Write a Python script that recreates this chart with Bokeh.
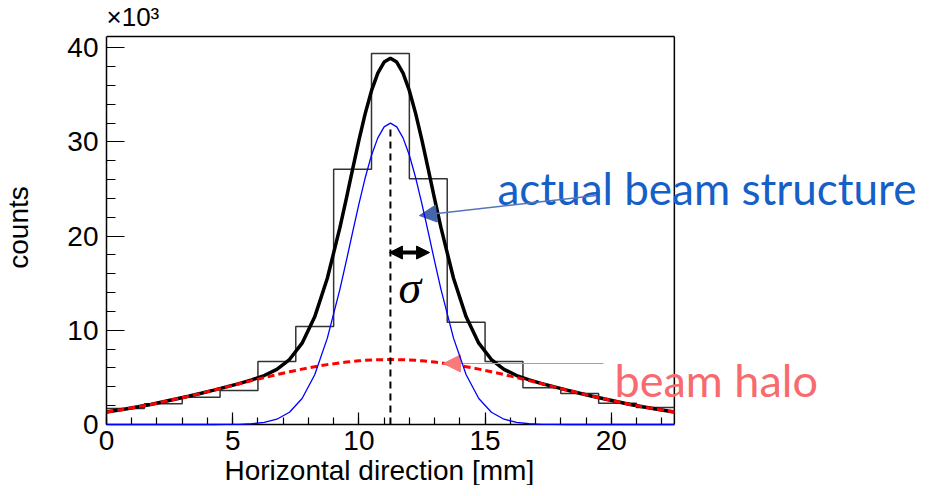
from bokeh.plotting import figure
from bokeh.models import (Range1d, SingleIntervalTicker, Label, Arrow, NormalHead, Title)
from bokeh.embed import file_html
from bokeh.resources import INLINE

# ---- data (counts in units of 10^3) ----
bin_edges = [0.0, 1.5, 3.0, 4.5, 6.0, 7.5, 9.0, 10.5, 12.0, 13.5, 15.0, 16.5, 18.0, 19.5, 21.0, 22.5]
bin_counts = [1.7, 2.2, 2.9, 3.6, 6.7, 10.4, 27.1, 39.4, 26.1, 10.85, 6.7, 3.9, 3.3, 2.25, 1.8]

curve_x = [0.0, 0.25, 0.75, 1.25, 1.75, 2.25, 2.75, 3.25, 3.75, 4.25, 4.75, 5.25, 5.75, 6.25,
           6.75, 7.25, 7.75, 8.25, 8.75,
           9.25, 9.5, 9.75, 10.0, 10.25, 10.5, 10.75, 11.0, 11.25, 11.5, 11.75, 12.0, 12.25,
           12.5, 12.75, 13.0, 13.25,
           13.75, 14.25, 14.75, 15.25, 15.75, 16.25, 16.75, 17.25, 17.75, 18.25, 18.75, 19.25,
           19.75, 20.25, 20.75, 21.25, 21.75, 22.25, 22.5]
halo = [1.33, 1.43, 1.65, 1.88, 2.13, 2.41, 2.70, 3.00, 3.32, 3.65, 3.98, 4.32, 4.66, 4.98,
        5.30, 5.60, 5.88, 6.14, 6.36,
        6.55, 6.63, 6.70, 6.76, 6.81, 6.85, 6.88, 6.89, 6.90, 6.89, 6.88, 6.85, 6.81,
        6.76, 6.70, 6.63, 6.55,
        6.36, 6.14, 5.88, 5.60, 5.30, 4.98, 4.66, 4.32, 3.98, 3.65, 3.32, 3.00, 2.70, 2.41,
        2.13, 1.88, 1.65, 1.43, 1.33]
core = [0.0, 0.0, 0.0, 0.0, 0.0, 0.0, 0.0, 0.0, 0.0, 0.0, 0.01, 0.02, 0.08, 0.22, 0.56, 1.30,
        2.76, 5.29, 9.17,
        14.38, 17.34, 20.40, 23.41, 26.20, 28.60, 30.44, 31.60, 32.00, 31.60, 30.44, 28.60, 26.20,
        23.41, 20.40, 17.34, 14.38,
        9.17, 5.29, 2.76, 1.30, 0.56, 0.22, 0.08, 0.02, 0.01, 0.0, 0.0, 0.0, 0.0, 0.0, 0.0,
        0.0, 0.0, 0.0, 0.0]
total = [1.33, 1.43, 1.65, 1.88, 2.13, 2.41, 2.70, 3.00, 3.32, 3.65, 3.99, 4.34, 4.74, 5.20,
         5.86, 6.90, 8.64, 11.43, 15.53,
         20.93, 23.97, 27.10, 30.17, 33.01, 35.45, 37.32, 38.49, 38.90, 38.49, 37.32, 35.45, 33.01,
         30.17, 27.10, 23.97, 20.93,
         15.53, 11.43, 8.64, 6.90, 5.86, 5.20, 4.74, 4.34, 3.99, 3.65, 3.32, 3.00, 2.70, 2.41,
         2.13, 1.88, 1.65, 1.43, 1.33]

x_min, x_max = 0.0, 22.5      # histogram box
y_min, y_max = 0.0, 41.2

beam_mean = 11.25
core_peak = 31.7
sigma_width = 1.55

x_label = "Horizontal direction [mm]"
y_label = "counts"
scale_label = "×10³"
struct_text = "actual beam structure"
halo_text = "beam halo"

# ---- figure: frame extended to the right so the annotation texts are not clipped;
# the histogram box itself is drawn with axis bounds + two segments ----
p = figure(frame_width=820, frame_height=394, output_backend="svg", toolbar_location=None,
           x_range=Range1d(0, 32.49), y_range=Range1d(0, 41.84),
           min_border_left=102, min_border_right=0, min_border_top=28, min_border_bottom=58)
p.background_fill_color = "white"
p.border_fill_color = "white"
p.outline_line_color = None
p.xgrid.visible = False
p.ygrid.visible = False

for ax in (p.xaxis[0], p.yaxis[0]):
    ax.axis_line_color = "black"
    ax.axis_line_width = 1.5
    ax.major_tick_line_color = "black"
    ax.minor_tick_line_color = "black"
    ax.major_tick_line_width = 1.2
    ax.minor_tick_line_width = 1.2
    ax.major_tick_out = 0
    ax.minor_tick_out = 0
    ax.major_label_text_font = "Liberation Sans"
    ax.major_label_text_font_size = "28px"
    ax.major_label_text_color = "black"
    ax.axis_label_text_font = "Liberation Sans"
    ax.axis_label_text_font_size = "28px"
    ax.axis_label_text_font_style = "normal"
    ax.axis_label_text_color = "black"

p.xaxis[0].bounds = (x_min, x_max)
p.yaxis[0].bounds = (y_min, y_max)
p.xaxis[0].ticker = SingleIntervalTicker(interval=5, num_minor_ticks=5)
p.yaxis[0].ticker = SingleIntervalTicker(interval=10, num_minor_ticks=5)
p.xaxis[0].major_tick_in = 12
p.xaxis[0].minor_tick_in = 7
p.yaxis[0].major_tick_in = 18
p.yaxis[0].minor_tick_in = 9
p.xaxis[0].major_label_standoff = 6
p.yaxis[0].major_label_standoff = 8
p.yaxis[0].axis_label = y_label
p.yaxis[0].axis_label_standoff = 30

# x title placed as a Title so that it is centred on the histogram box, not the wider frame
p.add_layout(Title(text=x_label, align="left", offset=118, standoff=0,
                   text_font="Liberation Sans", text_font_size="28px", text_font_style="normal",
                   text_color="black"), "below")
# multiplier above the box
p.add_layout(Title(text=scale_label, align="left", offset=0, standoff=-2,
                   text_font="Liberation Sans", text_font_size="26px", text_font_style="normal",
                   text_color="black"), "above")

# box top and right
p.segment(x0=[x_min, x_max], y0=[y_max, y_min], x1=[x_max, x_max], y1=[y_max, y_max],
          line_color="black", line_width=1.5)

# histogram
p.step(x=bin_edges, y=bin_counts + [bin_counts[-1]], mode="after", line_color="#333333", line_width=1.5)
# curves
p.line(curve_x, core, line_color="#0000ff", line_width=1.3, level="overlay")
p.line(curve_x, total, line_color="black", line_width=3.5)
p.line(curve_x, halo, line_color="#ff0000", line_width=3, line_dash="7 4")
# mean line
p.segment(x0=[beam_mean], y0=[0], x1=[beam_mean], y1=[core_peak], line_color="black",
          line_width=2, line_dash="7 5")

# sigma arrow
p.add_layout(Arrow(x_start=beam_mean - 0.04, y_start=18.26, x_end=beam_mean + sigma_width, y_end=18.26,
                   line_color="black", line_width=4,
                   start=NormalHead(size=13, fill_color="black", line_color="black", line_width=1),
                   end=NormalHead(size=13, fill_color="black", line_color="black", line_width=1)))
p.add_layout(Label(x=12.02, y=14.6, text="σ", text_font="Liberation Serif", text_font_style="italic",
                   text_font_size="46px", text_align="center", text_baseline="alphabetic",
                   text_color="black"))

# annotations (canvas units)
p.add_layout(Label(x=497, y=187, x_units="canvas", y_units="canvas", text=struct_text,
                   text_font="Lato", text_font_size="44px",
                   text_color="#1560c8", text_baseline="alphabetic"))
p.add_layout(Arrow(x_start=19.41, y_start=24.32, x_end=12.40, y_end=22.19,
                   line_color="#5575b8", line_width=1.5,
                   end=NormalHead(size=17, fill_color="#4466aa", line_color="#4466aa", line_width=1)))
p.add_layout(Label(x=614, y=379, x_units="canvas", y_units="canvas", text=halo_text,
                   text_font="Lato", text_font_size="45px",
                   text_color="#f86a6d", text_baseline="alphabetic"))
p.add_layout(Arrow(x_start=19.69, y_start=6.48, x_end=13.35, y_end=6.48,
                   line_color="#f87a7a", line_width=1.2,
                   end=NormalHead(size=17, fill_color="#f87a7a", line_color="#f87a7a", line_width=1)))

open("out.html", "w").write(file_html(p, INLINE))
